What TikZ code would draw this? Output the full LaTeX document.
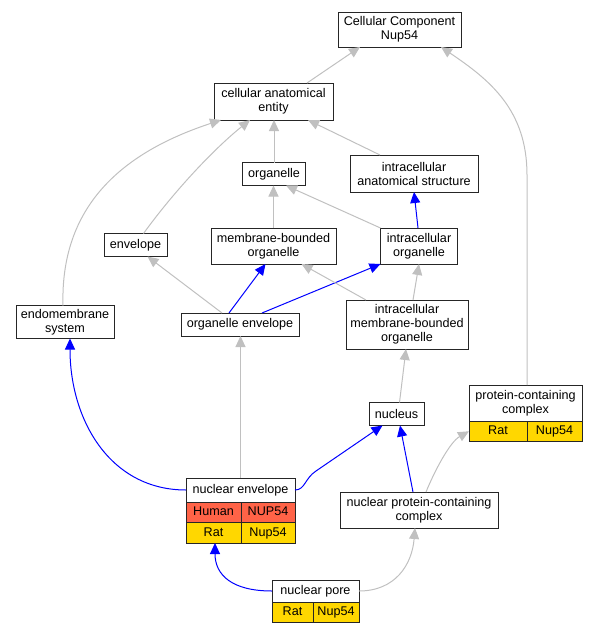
\documentclass[tikz,border=0pt]{standalone}
\usepackage{fontspec}
\setmainfont{Liberation Sans}
\usetikzlibrary{arrows.meta,positioning}
\definecolor{isagray}{RGB}{192,192,192}
\definecolor{human}{RGB}{255,99,71}
\definecolor{rat}{RGB}{255,215,0}

\begin{document}
\begin{tikzpicture}[x=1pt, y=-1pt,
  term/.style={rectangle, draw=black!85, fill=white, line width=0.9pt, inner sep=2pt, outer sep=0pt, align=center, font=\fontsize{12.6}{14}\selectfont, minimum height=23pt},
  cell/.style={term, minimum height=20.5pt, text height=9pt, text depth=2.5pt, anchor=north west},
  isa/.style={draw=isagray, line width=1pt, -{Triangle[length=11pt,width=10pt]}},
  partof/.style={isa, draw=blue}]
  \useasboundingbox (0,0) rectangle (597,635);
  \node[term, minimum width=123pt, minimum height=35pt] (cc) at (399.5,29.5) {Cellular Component\\Nup54};
  \node[term, minimum width=119pt, minimum height=37pt] (cae) at (273.5,101.5) {cellular anatomical\\entity};
  \node[term, minimum width=63pt] (org) at (274,174) {organelle};
  \node[term, minimum width=128pt, minimum height=37pt] (ias) at (414,173.5) {intracellular\\anatomical structure};
  \node[term, minimum width=63pt] (env) at (135.5,245) {envelope};
  \node[term, minimum width=125pt, minimum height=36pt] (mbo) at (273.5,246) {membrane-bounded\\organelle};
  \node[term, minimum width=77pt, minimum height=36pt] (io) at (419,246) {intracellular\\organelle};
  \node[term, minimum width=98pt, minimum height=33pt] (ems) at (65,322) {endomembrane\\system};
  \node[term, minimum width=118pt] (oe) at (240,324.5) {organelle envelope};
  \node[term, minimum width=122pt, minimum height=49pt] (imbo) at (407,324.5) {intracellular\\membrane-bounded\\organelle};
  \node[term, minimum width=55pt] (nuc) at (396.5,414) {nucleus};
  \node[term, minimum width=113pt, minimum height=36pt] (pcc) at (525.5,403) {protein-containing\\complex};
  \node[cell, fill=rat, minimum width=58pt] (pccrat) at (pcc.south west) {Rat};
  \node[cell, fill=rat, minimum width=55pt] (pccnup) at (pccrat.north east) {Nup54};
  \node[term, minimum width=109pt, minimum height=24pt] (ne) at (240.5,490) {nuclear envelope};
  \node[cell, fill=human, minimum width=55pt] (nehum) at (ne.south west) {Human};
  \node[cell, fill=human, minimum width=54pt] (nehumnup) at (nehum.north east) {NUP54};
  \node[cell, fill=rat, minimum width=55pt] (nerat) at (nehum.south west) {Rat};
  \node[cell, fill=rat, minimum width=54pt] (neratnup) at (nerat.north east) {Nup54};
  \node[term, minimum width=158pt, minimum height=36pt] (npcc) at (419,510) {nuclear protein-containing\\complex};
  \node[term, minimum width=87pt, minimum height=22pt] (np) at (315.5,591) {nuclear pore};
  \node[cell, fill=rat, minimum width=41pt] (nprat) at (np.south west) {Rat};
  \node[cell, fill=rat, minimum width=46pt] (npnup) at (nprat.north east) {Nup54};

  \draw[isa] ([xshift=33.5pt]cae.north) -- ([xshift=-39.5pt]cc.south);
  \draw[isa] ([xshift=1.5pt]pcc.north) -- (527,175) .. controls (527,110) and (490,80) .. ([xshift=41.5pt]cc.south);
  \draw[isa] (org.north) -- (org.north |- cae.south);
  \draw[isa] ([xshift=-34pt]ias.north) -- ([xshift=34.5pt]cae.south);
  \draw[isa] ([xshift=8pt]env.north) .. controls (175,190) and (215,148) .. ([xshift=-23.5pt]cae.south);
  \draw[isa] ([xshift=-2pt]ems.north) .. controls (60,200) and (130,150) .. ([xshift=7pt]cae.south west);
  \draw[isa] (mbo.north) -- (mbo.north |- org.south);
  \draw[isa] (io.north west) -- ([xshift=12pt]org.south);
  \draw[partof] ([xshift=-1pt]io.north) -- (ias.south);
  \draw[isa] ([xshift=-18pt]oe.north) -- ([xshift=12pt]env.south);
  \draw[partof] ([xshift=-11pt]oe.north) -- ([xshift=-8pt]mbo.south);
  \draw[partof] ([xshift=22pt]oe.north) -- (io.south west);
  \draw[isa] ([xshift=-41pt]imbo.north) -- ([xshift=28pt]mbo.south);
  \draw[isa] ([xshift=6pt]imbo.north) -- (io.south);
  \draw[isa] (ne.north) -- (ne.north |- oe.south);
  \draw[partof] (ne.west) .. controls (110,490) and (70,420) .. ([xshift=5pt]ems.south);
  \draw[partof] (ne.east) .. controls (305,490) and (305,478) .. (316,471) -- ([xshift=-14pt]nuc.south);
  \draw[partof] ([xshift=-6pt]npcc.north) -- ([xshift=3.5pt]nuc.south);
  \draw[isa] ([xshift=3pt]nuc.north) -- ([xshift=-1pt]imbo.south);
  \draw[isa] ([xshift=7pt]npcc.north) .. controls (435,470) and (450,442) .. (pccrat.west);
  \draw[partof] (np.west) .. controls (232,591) and (215,575) .. ([xshift=1.5pt]nerat.south);
  \draw[isa] (np.east) .. controls (395,591) and (412,565) .. ([xshift=-4pt]npcc.south);
\end{tikzpicture}
\end{document}
